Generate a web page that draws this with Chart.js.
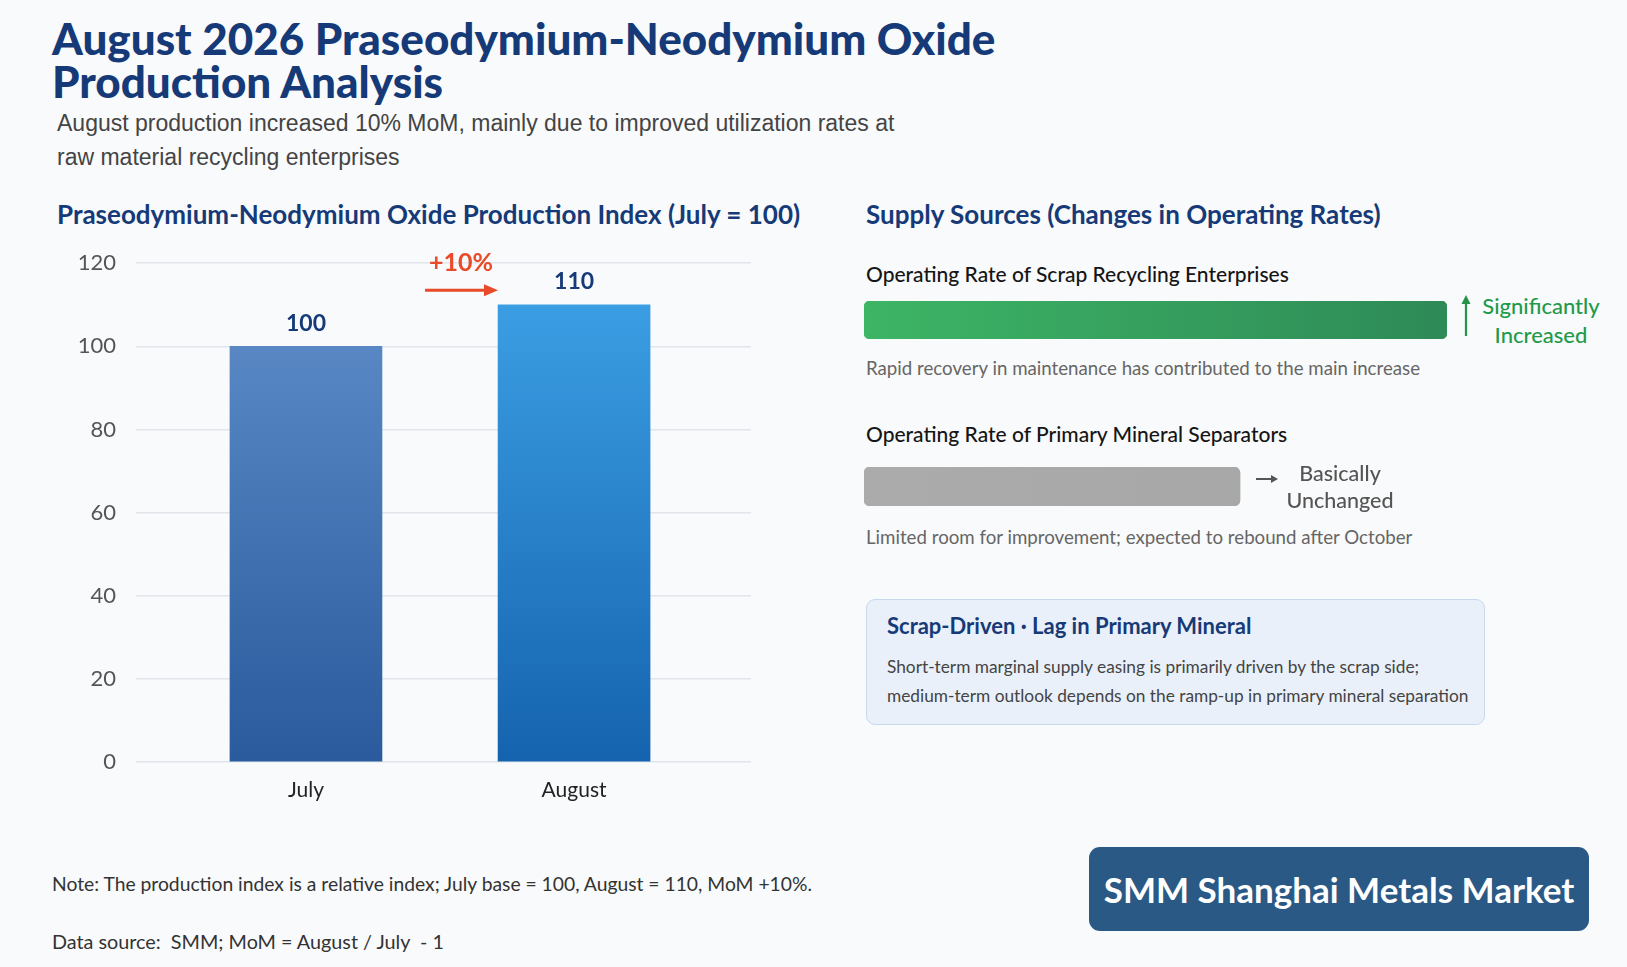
<!DOCTYPE html>
<html>
<head>
<meta charset="utf-8">
<script src="https://cdn.jsdelivr.net/npm/chart.js@4.4.1/dist/chart.umd.min.js"></script>
<style>
  html,body{margin:0;padding:0;}
  body{width:1627px;height:967px;background:#f9fafb;position:relative;overflow:hidden;font-family:Lato,"Noto Sans",sans-serif;}
  .t{position:absolute;white-space:nowrap;}
  .title{left:52px;font-weight:900;font-size:44px;color:#163a78;line-height:44px;}
  .sub{left:57px;font-family:"Liberation Sans",Arial,sans-serif;font-size:23px;color:#444;line-height:30px;}
  .h2{font-weight:700;font-size:26px;color:#163a78;line-height:32px;}
  .lbl{font-size:21px;color:#151515;line-height:28px;font-weight:500;}
  .desc{font-size:18.7px;color:#666;line-height:26px;}
  .note{left:52px;font-size:19.3px;color:#333;line-height:26px;}
  .box{position:absolute;left:866px;top:599px;width:617px;height:124px;background:#e9f0f9;border:1.5px solid #c8d9ee;border-radius:9px;}
  .badge{position:absolute;left:1089px;top:847px;width:500px;height:84px;background:#2a5985;border-radius:11px;color:#fff;font-weight:700;font-size:35px;line-height:84px;text-align:center;}
  canvas{position:absolute;}
</style>
</head>
<body>
<div class="t title" style="top:16px;">August 2026 Praseodymium-Neodymium Oxide</div>
<div class="t title" style="top:59px;">Production Analysis</div>
<div class="t sub" style="top:108px;">August production increased 10% MoM, mainly due to improved utilization rates at</div>
<div class="t sub" style="top:142px;">raw material recycling enterprises</div>

<div class="t h2" style="left:57px;top:198px;">Praseodymium-Neodymium Oxide Production Index (July = 100)</div>
<div class="t h2" style="left:866px;top:198px;">Supply Sources (Changes in Operating Rates)</div>

<div style="position:absolute;left:60px;top:230px;width:701px;height:582px;"><canvas id="main"></canvas></div>

<div class="t lbl" style="left:866px;top:260px;">Operating Rate of Scrap Recycling Enterprises</div>
<div style="position:absolute;left:864px;top:301px;width:583px;height:38px;"><canvas id="scrap"></canvas></div>
<svg style="position:absolute;left:1458px;top:294px;" width="16" height="44" viewBox="0 0 16 44">
  <line x1="8" y1="8" x2="8" y2="42" stroke="#23944a" stroke-width="2.2"/>
  <polygon points="8,1 3.5,10 12.5,10" fill="#23944a"/>
</svg>
<div class="t" style="left:1480px;top:291px;width:122px;text-align:center;font-size:22px;line-height:29px;color:#1f9a4b;font-weight:500;">Significantly<br>Increased</div>
<div class="t desc" style="left:866px;top:355px;">Rapid recovery in maintenance has contributed to the main increase</div>

<div class="t lbl" style="left:866px;top:420px;">Operating Rate of Primary Mineral Separators</div>
<div style="position:absolute;left:864px;top:467px;width:583px;height:39px;"><canvas id="primary"></canvas></div>
<svg style="position:absolute;left:1255px;top:472px;" width="24" height="14" viewBox="0 0 24 14">
  <line x1="1" y1="7" x2="18" y2="7" stroke="#555" stroke-width="2"/>
  <polygon points="23,7 16,3 16,11" fill="#555"/>
</svg>
<div class="t" style="left:1280px;top:460px;width:120px;text-align:center;font-size:21.5px;line-height:27px;color:#555;font-weight:500;">Basically<br>Unchanged</div>
<div class="t desc" style="left:866px;top:524px;">Limited room for improvement; expected to rebound after October</div>

<div class="box"></div>
<div class="t" style="left:887px;top:612px;font-size:22px;font-weight:700;color:#163a78;line-height:28px;">Scrap-Driven · Lag in Primary Mineral</div>
<div class="t" style="left:887px;top:652px;font-size:17.3px;color:#444;line-height:29px;">Short-term marginal supply easing is primarily driven by the scrap side;<br>medium-term outlook depends on the ramp-up in primary mineral separation</div>

<div class="t note" style="top:871px;">Note: The production index is a relative index; July base = 100, August = 110, MoM +10%.</div>
<div class="t note" style="top:928px;font-size:19.8px;">Data source:&nbsp; SMM; MoM = August / July&nbsp; - 1</div>

<div class="badge">SMM Shanghai Metals Market</div>

<script>
// ---- data ----
const categories = ['July', 'August'];
const productionIndex = [100, 110];
const yTicks = [0, 20, 40, 60, 80, 100, 120];
const momChangeLabel = '+10%';
const supplyLabels = ['Operating Rate of Scrap Recycling Enterprises', 'Operating Rate of Primary Mineral Separators'];
const relativeBarLength = [100, 64.5];   // visual relative length of the two rate bars

const barGradients = [
  ['#6190cc', '#2b5a9d'],
  ['#3ea3e8', '#1563ae']
];

const valueLabels = {
  id: 'valueLabels',
  afterDatasetsDraw(chart) {
    const {ctx, scales: {x, y}} = chart;
    const meta = chart.getDatasetMeta(0);
    ctx.save();
    ctx.font = '700 23px Lato, sans-serif';
    ctx.fillStyle = '#173a78';
    ctx.textAlign = 'center';
    ctx.textBaseline = 'middle';
    meta.data.forEach((bar, i) => {
      ctx.fillText(String(productionIndex[i]), bar.x, bar.y - 23);
    });
    // MoM annotation
    const mx = (x.getPixelForValue(0) + x.getPixelForValue(1)) / 2 + 21;
    const ty = y.getPixelForValue(120);
    ctx.font = '700 25px Lato, sans-serif';
    ctx.fillStyle = '#e84a2a';
    ctx.fillText(momChangeLabel, mx, ty);
    const ay = ty + 27;
    ctx.strokeStyle = '#e84a2a';
    ctx.lineWidth = 3;
    ctx.beginPath();
    ctx.moveTo(mx - 36, ay);
    ctx.lineTo(mx + 26, ay);
    ctx.stroke();
    ctx.beginPath();
    ctx.moveTo(mx + 37, ay);
    ctx.lineTo(mx + 23, ay - 6);
    ctx.lineTo(mx + 23, ay + 6);
    ctx.closePath();
    ctx.fill();
    ctx.restore();
  }
};

new Chart(document.getElementById('main'), {
  type: 'bar',
  data: {
    datasets: [{
      data: productionIndex.map((v, i) => ({x: i, y: v})),
      barThickness: 152,
      backgroundColor(c) {
        const area = c.chart.chartArea;
        if (!area) return barGradients[c.dataIndex % 2][1];
        const g = c.chart.ctx.createLinearGradient(0, area.top, 0, area.bottom);
        g.addColorStop(0, barGradients[c.dataIndex][0]);
        g.addColorStop(1, barGradients[c.dataIndex][1]);
        return g;
      },
      borderWidth: 0
    }]
  },
  options: {
    responsive: true,
    maintainAspectRatio: false,
    animation: false,
    layout: {padding: {top: 28, right: 10, left: 0, bottom: 0}},
    plugins: {legend: {display: false}, tooltip: {enabled: false}},
    scales: {
      x: {
        type: 'linear',
        offset: false,
        bounds: 'data',
        min: -0.634,
        max: 1.66,
        afterBuildTicks(s) { s.ticks = categories.map((_, i) => ({value: i})); },
        afterFit(s) { s.height = 50; },
        grid: {display: false, offset: false},
        border: {display: false},
        ticks: {
          callback: v => categories[v] ?? '',
          font: {family: 'Lato', size: 21},
          color: '#222',
          padding: 8,
          maxRotation: 0,
          autoSkip: false
        }
      },
      y: {
        min: 0,
        max: 120,
        afterBuildTicks(s) { s.ticks = yTicks.map(v => ({value: v})); },
        afterFit(s) { s.width = 76; },
        border: {display: false},
        grid: {color: '#e2e5eb', lineWidth: 1.5, drawTicks: false},
        ticks: {
          font: {family: 'Lato', size: 22},
          color: '#555',
          padding: 20
        }
      }
    }
  },
  plugins: [valueLabels]
});

function rateBar(id, idx, colors) {
  new Chart(document.getElementById(id), {
    type: 'bar',
    data: {
      labels: [supplyLabels[idx]],
      datasets: [{
        data: [relativeBarLength[idx]],
        barPercentage: 1,
        categoryPercentage: 1,
        borderRadius: 6,
        borderSkipped: false,
        borderWidth: 0,
        backgroundColor(c) {
          const area = c.chart.chartArea;
          if (!area) return colors[0];
          const g = c.chart.ctx.createLinearGradient(area.left, 0, area.right, 0);
          g.addColorStop(0, colors[0]);
          g.addColorStop(1, colors[1]);
          return g;
        }
      }]
    },
    options: {
      indexAxis: 'y',
      responsive: true,
      maintainAspectRatio: false,
      animation: false,
      layout: {padding: 0},
      plugins: {legend: {display: false}, tooltip: {enabled: false}},
      scales: {
        x: {display: false, min: 0, max: 100},
        y: {display: false}
      }
    }
  });
}
rateBar('scrap', 0, ['#3db565', '#2e8a57']);
rateBar('primary', 1, ['#ababab', '#a6a6a6']);
</script>
</body>
</html>
